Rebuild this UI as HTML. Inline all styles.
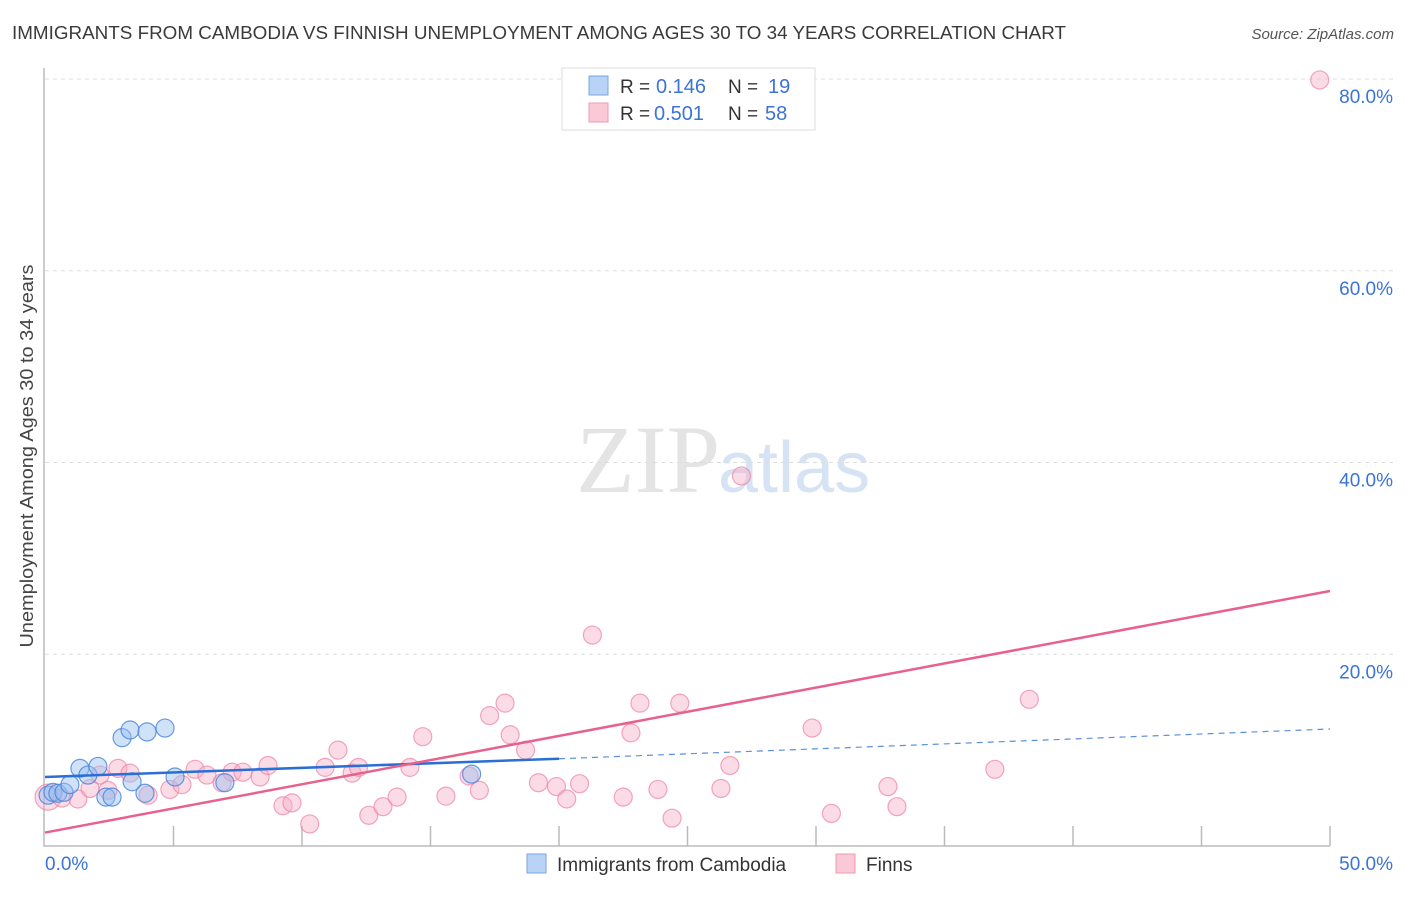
<!DOCTYPE html>
<html><head><meta charset="utf-8"><style>
body{margin:0;background:#fff;font-family:"Liberation Sans",sans-serif;}
</style></head><body>
<svg width="1406" height="892" xmlns="http://www.w3.org/2000/svg" id="c">
<text x="12" y="39" font-size="18" fill="#3a3a3a" textLength="1054" lengthAdjust="spacingAndGlyphs">IMMIGRANTS FROM CAMBODIA VS FINNISH UNEMPLOYMENT AMONG AGES 30 TO 34 YEARS CORRELATION CHART</text>
<text x="1394" y="39" font-size="15" fill="#555" font-style="italic" text-anchor="end">Source: ZipAtlas.com</text>
<text x="720" y="492" font-size="96" fill="#e4e4e4" text-anchor="end" font-family="Liberation Serif,serif">ZIP</text>
<text x="718" y="492" font-size="72" fill="#d6e3f5">atlas</text>
<g id="grid"></g><g id="marks"></g>
<text x="33" y="456" font-size="18" fill="#444" text-anchor="middle" textLength="383" lengthAdjust="spacingAndGlyphs" transform="rotate(-90 33 456)">Unemployment Among Ages 30 to 34 years</text>
<g>
<rect x="562" y="68" width="253" height="62" fill="#fff" stroke="#ddd"/>
<rect x="589" y="76" width="19" height="19" fill="#b8d3f5" stroke="#7aa6e6"/>
<rect x="589" y="103" width="19" height="19" fill="#f9c9d7" stroke="#ee9ab3"/>
<text x="620" y="93" font-size="19" fill="#333">R =</text><text x="656" y="93" font-size="20" fill="#3b74d6">0.146</text>
<text x="728" y="93" font-size="19" fill="#333">N =</text><text x="768" y="93" font-size="20" fill="#3b74d6">19</text>
<text x="620" y="120" font-size="19" fill="#333">R =</text><text x="654" y="120" font-size="20" fill="#3b74d6">0.501</text>
<text x="728" y="120" font-size="19" fill="#333">N =</text><text x="765" y="120" font-size="20" fill="#3b74d6">58</text>
</g>
<g>
<rect x="527" y="854" width="19" height="19" fill="#b8d3f5" stroke="#7aa6e6"/>
<text x="557" y="871" font-size="19" fill="#333">Immigrants from Cambodia</text>
<rect x="836" y="854" width="19" height="19" fill="#f9c9d7" stroke="#ee9ab3"/>
<text x="866" y="871" font-size="19" fill="#333">Finns</text>
</g>
</svg>
<script>
const yTicks=[20,40,60,80];
const yTickLabels=["20.0%","40.0%","60.0%","80.0%"];
const xEndLabels=["0.0%","50.0%"];
const blueX=[0.12,0.31,0.5,0.74,0.97,1.36,1.67,2.06,2.37,2.61,3.0,3.31,3.39,3.97,3.89,4.67,5.06,7.0,16.6];
const blueY=[5.3,5.6,5.5,5.6,6.4,8.1,7.4,8.3,5.1,5.1,11.3,12.1,6.7,11.9,5.5,12.3,7.2,6.6,7.5];
const pinkX=[0.12,0.66,1.28,1.75,2.14,2.45,2.84,3.31,4.01,4.86,5.33,5.84,6.3,6.89,7.28,7.7,8.37,8.68,9.26,9.61,10.3,10.9,11.4,11.95,12.2,12.6,13.15,13.7,14.2,14.7,15.6,16.5,16.9,17.3,17.9,18.1,18.7,19.2,19.9,20.3,20.8,21.3,22.5,22.8,23.15,23.85,24.4,24.7,26.3,26.65,27.1,29.85,30.6,32.8,33.15,36.96,38.3,49.6];
const pinkY=[5.1,5.0,4.9,6.0,7.4,5.8,8.1,7.6,5.3,5.9,6.4,8.0,7.4,6.6,7.7,7.7,7.2,8.4,4.2,4.5,2.3,8.2,10.0,7.6,8.2,3.2,4.1,5.1,8.2,11.4,5.2,7.3,5.8,13.6,14.9,11.6,10.0,6.6,6.2,4.9,6.5,22.0,5.1,11.8,14.9,5.9,2.9,14.9,6.0,8.4,38.6,12.3,3.4,6.2,4.1,8.0,15.3,79.9];
const X0=45,X1=1330,Y0=846,Y80=79;
const sx=v=>X0+(X1-X0)*v/50, sy=v=>Y0-(Y0-Y80)*v/80;
const NS="http://www.w3.org/2000/svg";
function mk(t,a,p){const e=document.createElementNS(NS,t);for(const k in a)e.setAttribute(k,a[k]);p.appendChild(e);return e;}
const g=document.getElementById('grid'),m=document.getElementById('marks');
yTicks.forEach((v,i)=>{
 const l=mk('line',{x1:X0,x2:X1+65,y1:sy(v),y2:sy(v),stroke:'#ddd','stroke-dasharray':'4,4'},g);
 
 
 const t=mk('text',{x:1393,y:sy(v)+24,'font-size':19,fill:'#3b74d6','text-anchor':'end'},g);t.textContent=yTickLabels[i];
 
 
});
const ax=mk('path',{d:`M${X0-1} 68 V${Y0} H${X1}`,fill:'none',stroke:'#bbb','stroke-width':1.5},g);


for(let i=1;i<=10;i++){const x=sx(i*5);const t=mk('line',{x1:x,x2:x,y1:826,y2:Y0,stroke:'#bbb','stroke-width':1.5},g);
 
 }
xEndLabels.forEach((s,i)=>{const t=mk('text',{x:i?1393:45,y:870,'font-size':19,fill:'#3b74d6','text-anchor':i?'end':'start'},g);t.textContent=s;
 
 });
pinkX.forEach((x,i)=>{const c=mk('circle',{cx:sx(x),cy:sy(pinkY[i]),r:i==0?13:9,fill:'rgba(246,176,198,0.45)',stroke:'rgba(236,130,162,0.7)','stroke-width':1.2},m);
 
 });
blueX.forEach((x,i)=>{const c=mk('circle',{cx:sx(x),cy:sy(blueY[i]),r:9,fill:'rgba(150,190,240,0.45)',stroke:'rgba(70,130,220,0.8)','stroke-width':1.2},m);
 
 });
const blueFit=[7.2,9.1,12.2], pinkFit=[1.4,26.6];
let l=mk('line',{x1:sx(0),y1:sy(blueFit[0]),x2:sx(20),y2:sy(blueFit[1]),stroke:'#2a6fd6','stroke-width':2.5},m);


l=mk('line',{x1:sx(20),y1:sy(blueFit[1]),x2:sx(50),y2:sy(blueFit[2]),stroke:'#5b8fe0','stroke-width':1.2,'stroke-dasharray':'6,5'},m);


l=mk('line',{x1:sx(0),y1:sy(pinkFit[0]),x2:sx(50),y2:sy(pinkFit[1]),stroke:'#e8608c','stroke-width':2.5},m);


</script>
</body></html>
